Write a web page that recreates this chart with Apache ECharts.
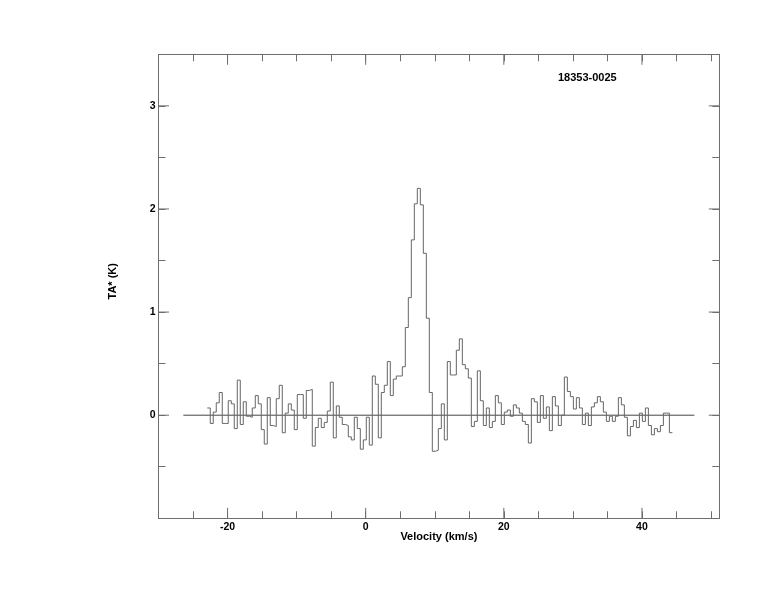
<!DOCTYPE html>
<html>
<head>
<meta charset="utf-8">
<script src="https://cdn.jsdelivr.net/npm/echarts@6/dist/echarts.min.js"></script>
<style>
html,body{margin:0;padding:0;background:#fff;}
#c{width:774px;height:612px;}
</style>
</head>
<body>
<div id="c"></div>
<script>
// Spectrum channels: start velocity (km/s), channel width, antenna temperatures (K)
const v0 = -22.94;
const dv = 0.4345;
const ta = [
  0.07,-0.08,0.03,0.12,0.22,-0.08,-0.08,0.14,0.11,-0.13,
  0.34,-0.09,0.13,-0.01,-0.02,0.07,0.19,0.11,-0.14,-0.28,
  0.17,-0.10,-0.11,0.16,0.29,-0.17,0.02,0.11,0.05,-0.14,
  0.20,0.20,-0.03,0.24,0.25,-0.30,-0.12,-0.03,-0.12,-0.07,
  0.04,0.32,-0.22,0.09,-0.02,-0.09,-0.10,-0.21,-0.24,-0.02,
  -0.13,-0.33,-0.24,-0.02,-0.29,0.38,0.30,-0.22,0.22,0.29,
  0.52,0.19,0.35,0.38,0.38,0.47,0.85,1.14,1.70,2.05,
  2.20,2.04,1.57,0.94,0.22,-0.35,-0.34,-0.13,0.11,-0.24,
  0.52,0.39,0.39,0.63,0.74,0.49,0.45,0.36,-0.11,-0.06,
  0.43,0.14,-0.10,0.07,-0.12,-0.06,0.19,0.12,-0.09,0.03,
  0.05,-0.01,0.10,0.07,0.02,-0.06,-0.09,-0.27,0.16,0.13,
  -0.07,0.19,-0.03,0.08,-0.15,0.18,0.09,-0.10,0.00,0.37,
  0.23,0.18,0.06,0.17,0.07,-0.09,0.02,-0.10,0.08,0.12,
  0.18,0.13,0.03,-0.06,-0.01,-0.06,-0.01,0.17,0.10,-0.02,
  -0.20,-0.11,-0.05,-0.12,0.02,-0.06,0.07,-0.10,-0.19,-0.13,
  -0.16,-0.10,0.02,0.02,-0.17
];
const baseline = [-26.4, 47.6];
const xMajor = [-20, 0, 20, 40];
const yMajor = [0, 1, 2, 3];
const xRange = [-30, 51.2];
const yRange = [-1, 3.5];
const sourceName = '18353-0025';

const stepData = ta.map((t, i) => [v0 + i * dv, t]);
stepData.push([v0 + ta.length * dv, ta[ta.length - 1]]);

const frameColor = '#6e6e6e';
const font = 'Liberation Sans, Arial, Helvetica, sans-serif';

const tickData = [];
xMajor.forEach(v => tickData.push([v, yRange[0], 0]));
yMajor.forEach(v => tickData.push([xRange[0], v, 1]));

const chart = echarts.init(document.getElementById('c'), null, {renderer: 'canvas'});
const baseX = {
  type: 'value', min: xRange[0], max: xRange[1], interval: 5,
  axisLine: {show: true, onZero: false, lineStyle: {color: frameColor, width: 1}},
  axisTick: {show: true, inside: true, length: 7, lineStyle: {color: frameColor}},
  splitLine: {show: false}
};
const baseY = {
  type: 'value', min: yRange[0], max: yRange[1], interval: 0.5,
  axisLine: {show: true, onZero: false, lineStyle: {color: frameColor, width: 1}},
  axisTick: {show: true, inside: true, length: 7, lineStyle: {color: frameColor}},
  splitLine: {show: false}
};
chart.setOption({
  animation: false,
  backgroundColor: '#fff',
  grid: {left: 158.5, right: 54.7, top: 54.3, bottom: 93.7, containLabel: false},
  xAxis: [
    Object.assign({}, baseX, {
      position: 'bottom',
      name: 'Velocity (km/s)', nameLocation: 'middle', nameGap: 13, nameMoveOverlap: false,
      nameTextStyle: {fontFamily: font, fontWeight: 'bold', fontSize: 11, color: '#000'},
      axisLabel: {
        show: true, margin: 3, fontFamily: font, fontWeight: 'bold', fontSize: 10.5, color: '#000',
        formatter: v => (Math.abs(v % 20) < 1e-6 ? String(Math.round(v)) : '')
      }
    }),
    Object.assign({}, baseX, {position: 'top', axisLabel: {show: false}})
  ],
  yAxis: [
    Object.assign({}, baseY, {
      position: 'left',
      name: 'TA* (K)', nameLocation: 'middle', nameGap: 40, nameRotate: 90, nameMoveOverlap: false,
      nameTextStyle: {fontFamily: font, fontWeight: 'bold', fontSize: 11, color: '#000', padding: [0, 0, 0, 10]},
      axisLabel: {
        show: true, margin: 3, fontFamily: font, fontWeight: 'bold', fontSize: 10.5, color: '#000',
        formatter: v => (v >= 0 && Math.abs(v - Math.round(v)) < 1e-6 ? String(Math.round(v)) : '')
      }
    }),
    Object.assign({}, baseY, {position: 'right', axisLabel: {show: false}})
  ],
  graphic: [{
    type: 'text', left: 558, top: 72,
    style: {text: sourceName, fontFamily: font, fontWeight: 'bold', fontSize: 11, fill: '#000'}
  }],
  series: [
    {
      type: 'line', xAxisIndex: 0, yAxisIndex: 0,
      data: baseline.map(v => [v, 0]),
      showSymbol: false, silent: true,
      lineStyle: {color: '#444', width: 1}
    },
    {
      type: 'line', xAxisIndex: 0, yAxisIndex: 0,
      data: stepData, step: 'end',
      showSymbol: false, silent: true,
      lineStyle: {color: '#666', width: 1}
    },
    {
      type: 'custom', xAxisIndex: 0, yAxisIndex: 0, silent: true,
      data: tickData,
      renderItem: function (params, api) {
        const kind = api.value(2);
        const L = 10.5;
        const st = {stroke: frameColor, lineWidth: 1};
        if (kind === 0) {
          const v = api.value(0);
          const b = api.coord([v, yRange[0]]);
          const t = api.coord([v, yRange[1]]);
          return {type: 'group', children: [
            {type: 'line', shape: {x1: b[0], y1: b[1], x2: b[0], y2: b[1] - L}, style: st},
            {type: 'line', shape: {x1: t[0], y1: t[1], x2: t[0], y2: t[1] + L}, style: st}
          ]};
        } else {
          const v = api.value(1);
          const l = api.coord([xRange[0], v]);
          const r = api.coord([xRange[1], v]);
          return {type: 'group', children: [
            {type: 'line', shape: {x1: l[0], y1: l[1], x2: l[0] + L, y2: l[1]}, style: st},
            {type: 'line', shape: {x1: r[0], y1: r[1], x2: r[0] - L, y2: r[1]}, style: st}
          ]};
        }
      }
    }
  ]
});
</script>
</body>
</html>
